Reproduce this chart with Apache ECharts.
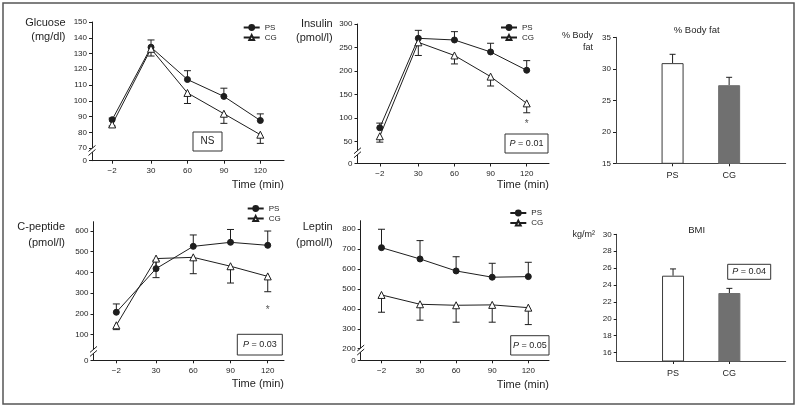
<!DOCTYPE html>
<html>
<head>
<meta charset="utf-8">
<script src="https://cdn.jsdelivr.net/npm/echarts@6/dist/echarts.min.js"></script>
<style>
html, body { margin: 0; padding: 0; background: #fff; }
#chart { width: 800px; height: 408px; }
</style>
</head>
<body>
<div id="chart"></div>
<script>
// -------------------- D A T A -------------------- //

const times = [-2, 30, 60, 90, 120];
const groups = ['PS', 'CG'];

const glucosePS = [88, 134, 113.5, 102.8, 87.5];
const glucosePSse = [1, 4.6, 5.6, 5.2, 4.2];
const glucoseCG = [85, 133, 105, 91.8, 78.5];
const glucoseCGse = [1, 4.6, 6.7, 6.1, 5.5];
const glucoseTicks = [0, 70, 80, 90, 100, 110, 120, 130, 140, 150];

const insulinPS = [79, 269.5, 266, 240.5, 201.5];
const insulinPSse = [10, 17, 17.7, 18.5, 20.5];
const insulinCG = [61, 261, 233, 188, 131];
const insulinCGse = [12.5, 28, 18, 20, 20];
const insulinTicks = [0, 50, 100, 150, 200, 250, 300];
const insulinStar = [[120, 87]];

const cpepPS = [208, 418.5, 526, 545.5, 531];
const cpepPSse = [40, 40, 55, 62, 69];
const cpepCG = [145, 467, 473, 430, 381];
const cpepCGse = [21, 92, 79, 81, 74];
const cpepTicks = [0, 100, 200, 300, 400, 500, 600];
const cpepStar = [[120, 217]];

const leptinPS = [707.5, 650.7, 590.5, 559, 562];
const leptinPSse = [92.5, 92.3, 71.5, 70, 72];
const leptinCG = [470, 423, 418, 420, 406];
const leptinCGse = [87, 80, 85, 87, 85];
const leptinTicks = [0, 200, 300, 400, 500, 600, 700, 800];

const bodyFat = [30.9, 27.4];
const bodyFatSe = [1.4, 1.25];
const bodyFatTicks = [15, 20, 25, 30, 35];

const bmi = [25.1, 23.05];
const bmiSe = [0.8, 0.55];
const bmiTicks = [16, 18, 20, 22, 24, 26, 28, 30];

// ----------------- L A Y O U T ----------------- //

const FONT = '"Liberation Sans", Arial, sans-serif';
const INK = '#1e1e1e';

// axis ranges; line panels have a broken y axis whose "0" sits at yMin
const panels = [
  { grid: { left: 92, top: 22, width: 192, height: 138.7 }, x: [-18.6, 139.5], y: [62, 150], ticks: glucoseTicks, brk: 68.5 },
  { grid: { left: 357.5, top: 24, width: 191.5, height: 139.5 }, x: [-20.5, 138.5], y: [3, 300], ticks: insulinTicks, brk: 26 },
  { grid: { left: 616, top: 37.3, width: 169.7, height: 126 }, x: [-1, 2], y: [15, 35], ticks: bodyFatTicks },
  { grid: { left: 93.5, top: 221.7, width: 190.5, height: 138.6 }, x: [-20.4, 133.1], y: [-24, 645], ticks: cpepTicks, brk: 19 },
  { grid: { left: 360.7, top: 220.7, width: 188.3, height: 139.6 }, x: [-19.3, 137.2], y: [141.5, 843], ticks: leptinTicks, brk: 193 },
  { grid: { left: 616.7, top: 234.3, width: 169, height: 126.7 }, x: [-1, 2], y: [15, 30], ticks: bmiTicks }
];

const isBar = (i) => i === 2 || i === 5;

// ----------------- F U N C T I O N ----------------- //

const fmtTime = (v) => (v < 0 ? '\u2212' + -v : String(v));

function renderErr(params, api) {
  const base = api.coord([api.value(0), api.value(1)]);
  const end = api.coord([api.value(0), api.value(2)]);
  const cap = api.value(3);
  const st = { stroke: INK, lineWidth: 1 };
  return {
    type: 'group',
    children: [
      { type: 'line', shape: { x1: base[0], y1: base[1], x2: end[0], y2: end[1] }, style: st },
      { type: 'line', shape: { x1: end[0] - cap, y1: end[1], x2: end[0] + cap, y2: end[1] }, style: st }
    ]
  };
}

function renderStar(params, api) {
  const p = api.coord([api.value(0), api.value(1)]);
  return {
    type: 'text', x: p[0], y: p[1],
    style: { text: '*', fill: '#555', fontSize: 10, fontFamily: FONT, align: 'center', verticalAlign: 'middle' }
  };
}

const errSeries = (i, xs, vals, se, dir, cap) => ({
  type: 'custom', xAxisIndex: i, yAxisIndex: i, z: 2, silent: true,
  data: xs.map((x, k) => [x, vals[k], vals[k] + dir * se[k], cap]),
  encode: { x: 0, y: [1, 2] },
  renderItem: renderErr
});

const lineSeries = (i, name, vals, filled) => ({
  type: 'line', name, xAxisIndex: i, yAxisIndex: i, z: 3,
  data: times.map((t, k) => [t, vals[k]]),
  symbol: filled ? 'circle' : 'triangle',
  symbolSize: filled ? 6 : 7,
  lineStyle: { color: INK, width: 1 },
  itemStyle: { color: filled ? INK : '#fff', borderColor: INK, borderWidth: 1 }
});

const starSeries = (i, pts) => ({
  type: 'custom', xAxisIndex: i, yAxisIndex: i, z: 4, silent: true,
  data: pts, encode: { x: 0, y: 1 }, renderItem: renderStar
});

const barSeries = (i, vals) => ({
  type: 'bar', xAxisIndex: i, yAxisIndex: i, barWidth: 22, z: 2,
  data: [
    { value: [0, vals[0]], itemStyle: { color: '#fff', borderColor: '#3a3a3a', borderWidth: 1 } },
    { value: [1, vals[1]], itemStyle: { color: '#707070', borderColor: '#707070', borderWidth: 1 } }
  ]
});

// -------------------- A X E S -------------------- //

const grids = panels.map((p) => p.grid);

const xAxes = panels.map((p, i) => ({
  type: 'value', gridIndex: i, min: p.x[0], max: p.x[1],
  splitLine: { show: false },
  axisLine: { show: true, onZero: false, lineStyle: { color: isBar(i) ? '#444' : INK, width: 1 } },
  axisTick: { show: true, length: 3, customValues: isBar(i) ? [0, 1] : times, lineStyle: { color: INK } },
  axisLabel: {
    customValues: isBar(i) ? [0, 1] : times,
    formatter: isBar(i) ? (v) => groups[v] : fmtTime,
    fontSize: isBar(i) ? 9 : 8, color: INK, margin: isBar(i) ? 8 : 6, fontFamily: FONT
  }
}));

const yAxes = panels.map((p, i) => {
  const vals = isBar(i) ? p.ticks : [p.y[0]].concat(p.ticks.slice(1));
  return {
    type: 'value', gridIndex: i, min: p.y[0], max: p.y[1],
    splitLine: { show: false },
    axisLine: { show: true, onZero: false, lineStyle: { color: isBar(i) ? '#444' : INK, width: 1 } },
    axisTick: { show: true, length: 3, customValues: vals, lineStyle: { color: INK } },
    axisLabel: {
      customValues: vals,
      formatter: (v) => (v === p.y[0] && !isBar(i) ? String(p.ticks[0]) : String(v)),
      fontSize: 8, color: INK, margin: 5, fontFamily: FONT
    }
  };
});

// ------------------- S E R I E S ------------------- //

const series = [
  errSeries(0, times, glucosePS, glucosePSse, 1, 3.5),
  errSeries(0, times, glucoseCG, glucoseCGse, -1, 3.5),
  lineSeries(0, 'PS', glucosePS, true),
  lineSeries(0, 'CG', glucoseCG, false),

  errSeries(1, times, insulinPS, insulinPSse, 1, 3.5),
  errSeries(1, times, insulinCG, insulinCGse, -1, 3.5),
  lineSeries(1, 'PS', insulinPS, true),
  lineSeries(1, 'CG', insulinCG, false),
  starSeries(1, insulinStar),

  barSeries(2, bodyFat),
  errSeries(2, [0, 1], bodyFat, bodyFatSe, 1, 3),

  errSeries(3, times, cpepPS, cpepPSse, 1, 3.5),
  errSeries(3, times, cpepCG, cpepCGse, -1, 3.5),
  lineSeries(3, 'PS', cpepPS, true),
  lineSeries(3, 'CG', cpepCG, false),
  starSeries(3, cpepStar),

  errSeries(4, times, leptinPS, leptinPSse, 1, 3.5),
  errSeries(4, times, leptinCG, leptinCGse, -1, 3.5),
  lineSeries(4, 'PS', leptinPS, true),
  lineSeries(4, 'CG', leptinCG, false),

  barSeries(5, bmi),
  errSeries(5, [0, 1], bmi, bmiSe, 1, 3)
];

const legendAt = (left, top) => ({
  data: groups, left, top, orient: 'vertical', padding: 0,
  itemWidth: 16, itemHeight: 6, itemGap: 2, selectedMode: false,
  textStyle: { fontSize: 8, color: INK, fontFamily: FONT, lineHeight: 8 }
});

// ------------------ G R A P H I C ------------------ //

const txt = (text, x, y, size, align) => ({
  type: 'text', x, y, silent: true,
  style: { text, fill: INK, fontSize: size, fontFamily: FONT, align: align || 'right', verticalAlign: 'middle' }
});

const pBox = (label, x, y, w, h) => [
  { type: 'rect', shape: { x, y, width: w, height: h }, style: { fill: '#fff', stroke: '#333', lineWidth: 1 }, z: 10 },
  {
    type: 'text', x: x + w / 2, y: y + h / 2, z: 11, silent: true,
    style: {
      text: label, fill: INK, fontSize: 9, fontFamily: FONT, align: 'center', verticalAlign: 'middle',
      rich: { i: { fontStyle: 'italic', fontSize: 9, fontFamily: FONT, fill: INK } }
    }
  }
];

const staticGraphics = [
  { type: 'rect', shape: { x: 3, y: 3, width: 791, height: 401 }, style: { fill: 'none', stroke: '#555', lineWidth: 1.5 } },
  txt('Glcuose', 65.5, 23, 11), txt('(mg/dl)', 65.5, 37, 11),
  txt('Insulin', 332.7, 24, 11), txt('(pmol/l)', 332.7, 38, 11),
  txt('C-peptide', 65, 226.7, 11), txt('(pmol/l)', 65, 242.5, 11),
  txt('Leptin', 332.7, 227.3, 11), txt('(pmol/l)', 332.7, 242.7, 11),
  txt('% Body', 593, 36, 9), txt('fat', 593, 48, 9),
  txt('kg/m\u00b2', 595, 234.3, 9),
  txt('% Body fat', 696.7, 30.7, 9.5, 'center'),
  txt('BMI', 696.7, 230, 9.5, 'center'),
  txt('Time (min)', 284, 184.5, 11), txt('Time (min)', 549, 185, 11),
  txt('Time (min)', 284, 383.7, 11), txt('Time (min)', 549, 385, 11),
  { type: 'rect', shape: { x: 193, y: 132, width: 29, height: 19 }, style: { fill: '#fff', stroke: '#333', lineWidth: 1 } },
  txt('NS', 207.5, 141.5, 10, 'center')
].concat(
  pBox('{i|P} = 0.01', 505, 134, 43, 19),
  pBox('{i|P} = 0.03', 237.3, 334.3, 45, 20.7),
  pBox('{i|P} = 0.05', 510.7, 335.7, 38.3, 19.3),
  pBox('{i|P} = 0.04', 727.7, 264.3, 43, 15)
);

// ------------------- C H A R T ------------------- //

const myChart = echarts.init(document.getElementById('chart'), null, { renderer: 'canvas' });

myChart.setOption({
  animation: false,
  backgroundColor: '#fff',
  textStyle: { fontFamily: FONT },
  grid: grids,
  xAxis: xAxes,
  yAxis: yAxes,
  legend: [legendAt(242.7, 23.5), legendAt(500, 23.5), legendAt(246.7, 204.5), legendAt(509.3, 209)],
  series,
  graphic: staticGraphics
});

// break marks "//" on the broken y axes, placed through the axis scale
const breakMarks = [];
panels.forEach((p, i) => {
  if (p.brk === undefined) return;
  const c = myChart.convertToPixel({ xAxisIndex: i, yAxisIndex: i }, [p.x[0], p.brk]);
  const cx = c[0], cy = c[1];
  breakMarks.push(
    { type: 'polygon', z: 20, shape: { points: [[cx - 3.5, cy + 1], [cx + 3.5, cy - 5], [cx + 3.5, cy - 1], [cx - 3.5, cy + 5]] }, style: { fill: '#fff' } },
    { type: 'line', z: 21, shape: { x1: cx - 3.5, y1: cy + 1, x2: cx + 3.5, y2: cy - 5 }, style: { stroke: INK, lineWidth: 1 } },
    { type: 'line', z: 21, shape: { x1: cx - 3.5, y1: cy + 5, x2: cx + 3.5, y2: cy - 1 }, style: { stroke: INK, lineWidth: 1 } }
  );
});
myChart.setOption({ graphic: staticGraphics.concat(breakMarks) });
</script>
</body>
</html>
